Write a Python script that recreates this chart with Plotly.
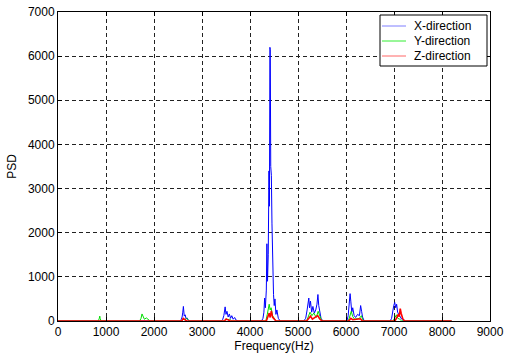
import plotly.graph_objects as go

# X-direction (blue)
fx = [0, 2540, 2570, 2585, 2600, 2612, 2630, 2650, 2668, 2690, 2710, 2740,
      3400, 3430, 3455, 3470, 3482, 3500, 3520, 3545, 3570, 3595, 3620, 3650, 3680, 3710, 3750,
      4240, 4270, 4290, 4305, 4320, 4340, 4352, 4365, 4380, 4395, 4405, 4415, 4422, 4432, 4445,
      4458, 4468, 4478, 4490, 4505, 4520, 4540, 4560, 4590, 4630,
      5120, 5160, 5190, 5210, 5225, 5240, 5260, 5285, 5310, 5340, 5370, 5395, 5415, 5432, 5450, 5480, 5520,
      6020, 6045, 6065, 6085, 6100, 6120, 6140, 6170, 6200, 6240, 6280, 6305, 6325, 6345, 6380,
      6920, 6950, 6975, 6995, 7015, 7035, 7055, 7075, 7100, 7130, 7160, 7200,
      8200]
px = [0, 0, 40, 90, 200, 330, 110, 140, 50, 70, 20, 0,
      0, 30, 120, 200, 320, 150, 220, 90, 160, 60, 120, 40, 80, 20, 0,
      0, 60, 200, 520, 300, 700, 1750, 900, 1500, 3400, 2600, 6200, 6150, 3500, 3300,
      2200, 1300, 900, 600, 350, 500, 150, 250, 60, 0,
      0, 60, 250, 420, 520, 300, 450, 200, 330, 180, 250, 380, 600, 350, 200, 60, 0,
      0, 120, 300, 620, 450, 200, 300, 120, 80, 150, 120, 350, 220, 90, 0,
      0, 60, 250, 350, 420, 300, 380, 200, 150, 90, 40, 0,
      0]

# Y-direction (green)
fy = [0, 840, 860, 870, 880, 900,
      1700, 1730, 1750, 1770, 1800, 1840, 1880, 1920,
      2560, 2600, 2640, 2680, 2720, 2760,
      3460, 3500, 3540, 3580, 3620,
      4330, 4360, 4380, 4400, 4420, 4440, 4470, 4500, 4540,
      5180, 5220, 5250, 5290, 5330, 5380, 5420, 5460, 5500,
      6050, 6080, 6110, 6140, 6180, 6280, 6320, 6360,
      6980, 7020, 7050, 7080, 7120, 7160,
      8200]
py = [0, 0, 60, 110, 50, 0,
      0, 60, 160, 90, 40, 70, 30, 0,
      0, 40, 30, 60, 20, 0,
      0, 50, 30, 40, 0,
      0, 150, 320, 380, 250, 300, 120, 60, 0,
      0, 100, 200, 120, 180, 80, 220, 100, 0,
      0, 120, 220, 100, 40, 60, 120, 0,
      0, 80, 140, 60, 40, 0,
      0]

# Z-direction (red)
fz = [0, 2580, 2610, 2640, 2680,
      3470, 3500, 3540, 3580,
      4340, 4370, 4400, 4420, 4445, 4470, 4500, 4540,
      5180, 5220, 5260, 5300, 5360, 5410, 5450, 5500,
      6060, 6100, 6140, 6300, 6340,
      7020, 7060, 7090, 7110, 7130, 7150, 7180, 7220,
      8200]
pz = [0, 0, 60, 30, 0,
      0, 40, 30, 0,
      0, 100, 180, 80, 230, 90, 40, 0,
      0, 60, 110, 40, 80, 120, 50, 0,
      0, 60, 30, 50, 0,
      0, 80, 150, 100, 280, 170, 60, 0,
      0]

names = ["X-direction", "Y-direction", "Z-direction"]
colors = ["#0000ff", "#00dd00", "#ff0000"]
legend_colors = ["#7f7fff", "#33ee33", "#ff6666"]
widths = [1, 1, 1.6]

xticks = [0, 1000, 2000, 3000, 4000, 5000, 6000, 7000, 8000, 9000]
yticks = [0, 1000, 2000, 3000, 4000, 5000, 6000, 7000]

fig = go.Figure()
for name, f, p, c, w in zip(names, [fx, fy, fz], [px, py, pz], colors, widths):
    fig.add_trace(go.Scatter(x=f, y=p, mode="lines", name=name,
                             line=dict(color=c, width=w), showlegend=False))

FAM = "Liberation Sans, Arial, sans-serif"
font = dict(family=FAM, size=12, color="#000000")
axis_common = dict(showline=True, linecolor="black", linewidth=1, mirror="ticks",
                   ticks="inside", ticklen=4, tickcolor="black",
                   showgrid=True, gridcolor="#222222", gridwidth=1, griddash="4px,3px",
                   zeroline=False, tickfont=font, automargin=False)

# Legend drawn in plot-area (paper) coordinates
L, R, T, B = 58, 490, 12, 321
def pxx(v):
    return (v - L) / (R - L)
def pyy(v):
    return (B - v) / (B - T)

shapes = [dict(type="rect", xref="paper", yref="paper",
               x0=pxx(380), x1=pxx(487), y0=pyy(66), y1=pyy(15),
               line=dict(color="black", width=1), fillcolor="white", layer="above")]
annotations = []
rows = [26, 41, 56]
for name, lc, yy in zip(names, legend_colors, rows):
    shapes.append(dict(type="line", xref="paper", yref="paper",
                       x0=pxx(382), x1=pxx(406), y0=pyy(yy), y1=pyy(yy),
                       line=dict(color=lc, width=1), layer="above"))
    annotations.append(dict(xref="paper", yref="paper", x=pxx(412), y=pyy(yy),
                            xanchor="left", yanchor="middle", text=name,
                            showarrow=False, font=font))

fig.update_layout(
    width=506, height=356,
    margin=dict(l=L, r=506 - R, t=T, b=356 - B),
    paper_bgcolor="white", plot_bgcolor="white",
    font=font,
    showlegend=False,
    shapes=shapes,
    annotations=annotations,
    xaxis=dict(range=[0, 9000], tickvals=xticks, ticktext=[str(v) for v in xticks],
               title=dict(text="Frequency(Hz)", standoff=0, font=font), **axis_common),
    yaxis=dict(range=[0, 7000], tickvals=yticks, ticktext=[str(v) for v in yticks],
               title=dict(text="PSD", standoff=8, font=font), **axis_common),
)

fig.write_html("out.html")
